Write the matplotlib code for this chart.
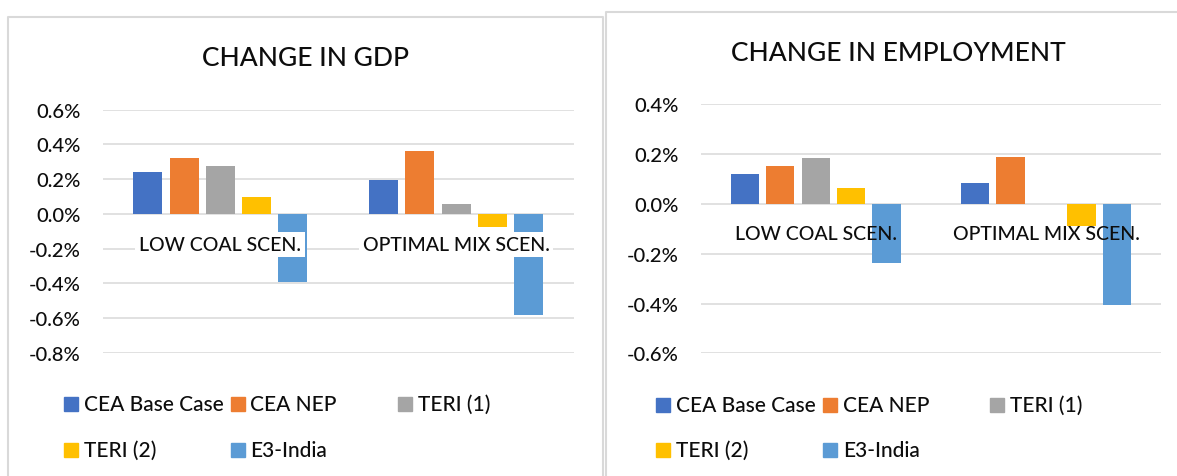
import numpy as np
import matplotlib
matplotlib.use("Agg")
from matplotlib import pyplot as plt
from matplotlib.patches import Rectangle
from matplotlib.lines import Line2D

plt.rcParams['font.family'] = ['Lato', 'DejaVu Sans']
plt.rcParams['font.weight'] = 500

scenarios = ['LOW COAL SCEN.', 'OPTIMAL MIX SCEN.']
series = ['CEA Base Case', 'CEA NEP', 'TERI (1)', 'TERI (2)', 'E3-India']
colors = ['#4472C4', '#ED7D31', '#A5A5A5', '#FFC000', '#5B9BD5']

# % change per scenario, one list per series
gdp_cea_base = [0.24, 0.195]
gdp_cea_nep = [0.32, 0.36]
gdp_teri1 = [0.275, 0.058]
gdp_teri2 = [0.097, -0.075]
gdp_e3 = [-0.39, -0.585]

emp_cea_base = [0.12, 0.083]
emp_cea_nep = [0.151, 0.188]
emp_teri1 = [0.184, 0.0]
emp_teri2 = [0.063, -0.088]
emp_e3 = [-0.238, -0.407]

gdp_ticks = [-0.8, -0.6, -0.4, -0.2, 0.0, 0.2, 0.4, 0.6]
emp_ticks = [-0.6, -0.4, -0.2, 0.0, 0.2, 0.4]

W, H = 1177, 477
DPI = 100
fig = plt.figure(figsize=(W / DPI, H / DPI), dpi=DPI)
fig.patch.set_facecolor('white')

TXT = '#0d0d0d'
GRID = '#d9d9d9'


def rect(x0, y0, x1, y1):
    # pixel box (top-left origin) -> figure fraction
    return [x0 / W, 1 - y1 / H, (x1 - x0) / W, (y1 - y0) / H]


def panel(box, data, ticks, label_box, pad, label_off):
    ax = fig.add_axes(rect(*box))
    x = np.arange(len(scenarios))
    pitch, width = 0.154, 0.123
    for j, vals in enumerate(data):
        ax.bar(x + (j - 2) * pitch, vals, width, color=colors[j], zorder=2)
    ax.set_xlim(-0.5, 1.5)
    ax.set_ylim(ticks[0], ticks[-1])
    ax.set_yticks(ticks)
    ax.set_yticklabels(['%.1f%%' % t for t in ticks])
    ax.tick_params(axis='y', length=0, pad=pad, labelsize=14.5, labelcolor=TXT)
    ax.set_xticks([])
    for s in ax.spines.values():
        s.set_visible(False)
    ax.grid(axis='y', color=GRID, lw=1.1, zorder=0)
    for i, name in enumerate(scenarios):
        kw = {}
        if label_box:
            kw['bbox'] = dict(boxstyle='square,pad=0.2', fc='white', ec='none')
        ax.annotate(name, xy=(i, 0), xytext=(0, label_off), textcoords='offset points',
                    ha='center', va='center', fontsize=14, color=TXT,
                    zorder=5, **kw)
    return ax


def legend(xs, rows):
    slots = [(xs[0], rows[0]), (xs[1], rows[0]), (xs[2], rows[0]),
             (xs[0], rows[1]), (xs[1], rows[1])]
    for (sx, sy), name, c in zip(slots, series, colors):
        fig.patches.append(Rectangle(((sx) / W, 1 - (sy + 7) / H), 14 / W, 14 / H,
                                     transform=fig.transFigure, color=c))
        fig.text((sx + 19.5) / W, 1 - sy / H, name, ha='left', va='center',
                 fontsize=15, color=TXT)


def border(pts):
    xs = [p[0] / W for p in pts]
    ys = [1 - p[1] / H for p in pts]
    fig.lines.append(Line2D(xs, ys, transform=fig.transFigure, color=GRID, lw=1.5))


border([(8.3, 477), (8.3, 18.3), (602.7, 18.3), (602.7, 477)])
border([(606, 477), (606, 13), (1177, 13)])

panel((102.5, 110.7, 574, 353.7),
      [gdp_cea_base, gdp_cea_nep, gdp_teri1, gdp_teri2, gdp_e3],
      gdp_ticks, True, 15.5, -22)
panel((700.5, 105.3, 1161.2, 354.3),
      [emp_cea_base, emp_cea_nep, emp_teri1, emp_teri2, emp_e3],
      emp_ticks, False, 16, -21)

fig.text(306 / W, 1 - 58 / H, 'CHANGE IN GDP', ha='center', va='center',
         fontsize=19, color=TXT)
fig.text(898 / W, 1 - 53.7 / H, 'CHANGE IN EMPLOYMENT', ha='center', va='center',
         fontsize=19, color=TXT)

legend([64, 231, 398], [405, 451])
legend([656, 823.4, 990], [405.7, 450.7])

fig.savefig('out.png', dpi=DPI)
